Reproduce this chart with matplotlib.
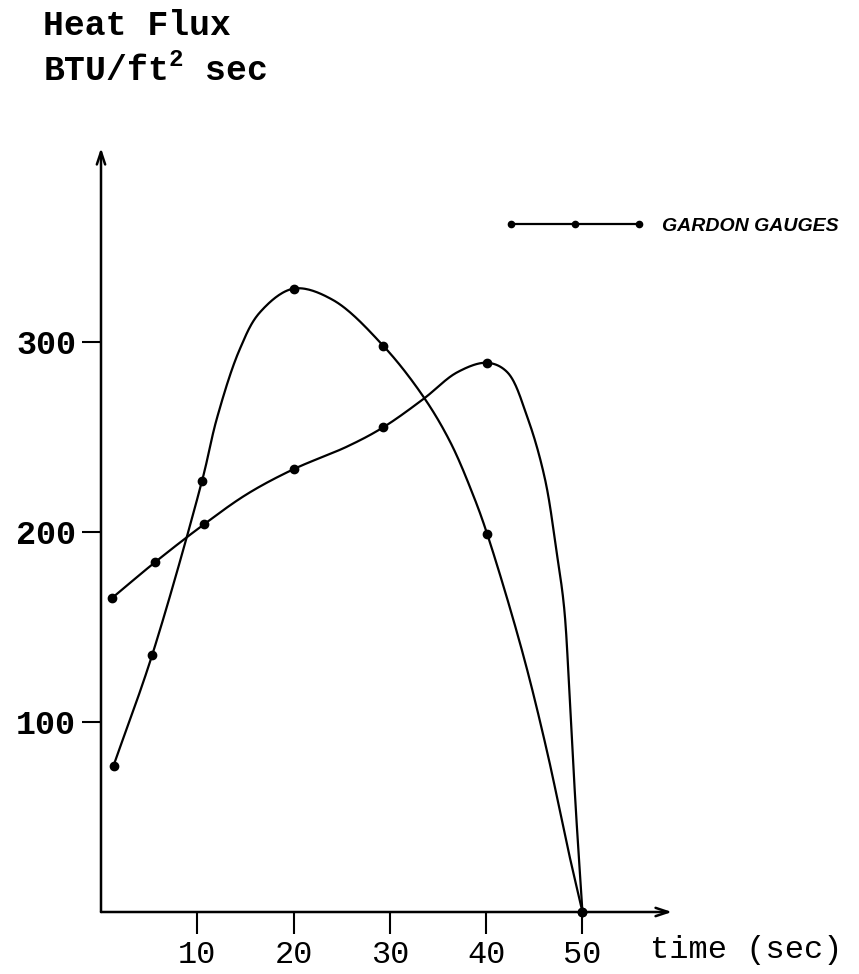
import numpy as np
import matplotlib.pyplot as plt

# heat flux readings from the two gauges (markers)
t_g1 = [1.3, 5.3, 10.5, 20.0, 29.3, 40.1, 50.0]
q_g1 = [77, 135, 227, 328, 298, 199, 0]
t_g2 = [1.1, 5.6, 10.7, 20.0, 29.3, 40.1, 50.0]
q_g2 = [165, 184, 204, 233, 255, 289, 0]

# hand-faired curves drawn through the readings
curve1_t = [1.3, 5.3, 10.5, 12.05, 14.4, 16.5, 20.0, 24.1, 29.3, 33.5, 36.3, 38.6, 40.1, 43.7, 46.3, 48.5, 50.0]
curve1_q = [77, 135, 227, 260, 296, 315.5, 328, 322, 298, 271, 247, 220, 199, 138, 85, 33, 0]
curve2_t = [1.1, 5.6, 10.7, 15.2, 20.0, 25.6, 29.3, 33.5, 37.0, 40.1, 42.2, 44.3, 46.1, 47.3, 48.1, 48.7, 49.3, 50.0]
curve2_q = [165, 184, 204, 220, 233, 245, 255, 270, 284, 289, 284, 260, 228, 190, 160, 110, 55, 0]

xticks = [10, 20, 30, 40, 50]
yticks = [100, 200, 300]
series_label = "GARDON GAUGES"

mono = "Liberation Mono"
plt.rcParams["mathtext.fontset"] = "custom"
plt.rcParams["mathtext.rm"] = "Liberation Mono:bold"


def smooth(ts, qs, n=30, sx=9.6, sy=1.9):
    # centripetal Catmull-Rom through the traced points (worked out in screen-like units)
    p = np.column_stack([np.asarray(ts, float) * sx, np.asarray(qs, float) * sy])
    p = np.vstack([2 * p[0] - p[1], p, 2 * p[-1] - p[-2]])
    out = []
    for i in range(1, len(p) - 2):
        p0, p1, p2, p3 = p[i - 1], p[i], p[i + 1], p[i + 2]
        k0 = 0.0
        k1 = k0 + np.linalg.norm(p1 - p0) ** 0.5
        k2 = k1 + np.linalg.norm(p2 - p1) ** 0.5
        k3 = k2 + np.linalg.norm(p3 - p2) ** 0.5
        u = np.linspace(k1, k2, n, endpoint=False)[:, None]
        a1 = (k1 - u) / (k1 - k0) * p0 + (u - k0) / (k1 - k0) * p1
        a2 = (k2 - u) / (k2 - k1) * p1 + (u - k1) / (k2 - k1) * p2
        a3 = (k3 - u) / (k3 - k2) * p2 + (u - k2) / (k3 - k2) * p3
        b1 = (k2 - u) / (k2 - k0) * a1 + (u - k0) / (k2 - k0) * a2
        b2 = (k3 - u) / (k3 - k1) * a2 + (u - k1) / (k3 - k1) * a3
        out.append((k2 - u) / (k2 - k1) * b1 + (u - k1) / (k2 - k1) * b2)
    out.append(p[-2][None, :])
    c = np.vstack(out)
    return c[:, 0] / sx, c[:, 1] / sy


W, H = 859, 974
fig = plt.figure(figsize=(W / 100, H / 100), dpi=100)
ax = fig.add_axes([101 / W, 62 / H, 571 / W, 764 / H])
ax.set_xlim(0, 59.3)
ax.set_ylim(0, 402)
for s in ax.spines.values():
    s.set_visible(False)

# axes drawn as arrows
arrow = dict(arrowstyle="->,head_length=0.9,head_width=0.3", lw=1.8, color="black",
             shrinkA=0, shrinkB=0)
ax.annotate("", xy=(59.3, 0), xytext=(0, 0), arrowprops=arrow, annotation_clip=False)
ax.annotate("", xy=(0, 402), xytext=(0, 0), arrowprops=arrow, annotation_clip=False)

x1, y1 = smooth(curve1_t, curve1_q)
x2, y2 = smooth(curve2_t, curve2_q)
ax.plot(x1, y1, color="black", lw=1.6, clip_on=False)
ax.plot(x2, y2, color="black", lw=1.6, clip_on=False)
ax.plot(t_g1, q_g1, "o", color="black", ms=6, clip_on=False)
ax.plot(t_g2, q_g2, "o", color="black", ms=6, clip_on=False)

ax.set_xticks(xticks)
ax.set_xticklabels([str(v) for v in xticks], fontsize=23, family=mono)
ax.set_yticks(yticks)
ax.set_yticklabels([str(v) for v in yticks], fontsize=24, family=mono, weight="bold")
ax.tick_params(axis="x", direction="out", length=16, width=1.5, pad=4)
ax.tick_params(axis="y", direction="out", length=14, width=1.5, pad=4)

# legend entry
handle, = ax.plot([], [], "-o", color="black", lw=1.6, ms=4.5)
ax.legend([handle], [series_label], numpoints=3, handlelength=7.2, handletextpad=0.9,
          frameon=False, borderpad=0, borderaxespad=0, loc="center left",
          bbox_to_anchor=(505 / W, 1 - 226 / H), bbox_transform=fig.transFigure,
          prop=dict(family="Liberation Sans", weight="bold", style="italic", size=14))

fig.text(650 / W, 1 - 950 / H, "time (sec)", fontsize=23, family=mono, va="center")
fig.text(43 / W, 1 - 35 / H, "Heat Flux", fontsize=25, family=mono, weight="bold", va="baseline")
fig.text(43 / W, 1 - 81 / H, r"BTU/ft$^{2}$ sec", fontsize=25, family=mono, weight="bold",
         va="baseline")

fig.savefig("out.png", dpi=100, facecolor="white")
